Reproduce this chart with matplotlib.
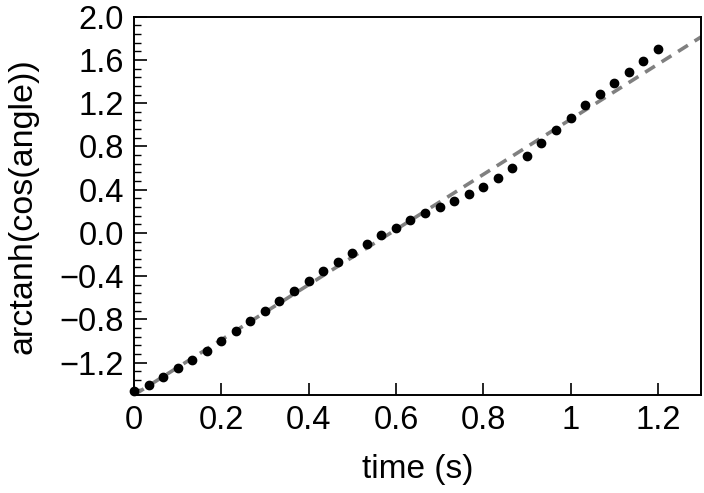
import numpy as np
import matplotlib
matplotlib.use("Agg")
import matplotlib.pyplot as plt
from matplotlib.ticker import MultipleLocator, FuncFormatter

plt.rcParams['font.family'] = ['Liberation Sans', 'DejaVu Sans']

# data
time_s = [k / 30 for k in range(37)]
arctanh_cos = [-1.463, -1.404, -1.333, -1.253, -1.179, -1.093, -1.000, -0.907,
               -0.815, -0.722, -0.626, -0.537, -0.447, -0.352, -0.269, -0.185,
               -0.102, -0.021, 0.046, 0.118, 0.180, 0.235, 0.291, 0.356,
               0.420, 0.504, 0.602, 0.713, 0.833, 0.951, 1.065, 1.182,
               1.284, 1.386, 1.488, 1.590, 1.698]
fit_slope = 2.55
fit_intercept = -1.50
fit_range = [0.0, 1.3]
x_ticks = [0, 0.2, 0.4, 0.6, 0.8, 1.0, 1.2]
x_tick_labels = ["0", "0.2", "0.4", "0.6", "0.8", "1", "1.2"]
y_ticks = [-1.2, -0.8, -0.4, 0.0, 0.4, 0.8, 1.2, 1.6, 2.0]

fig = plt.figure(figsize=(7.04, 4.93), dpi=100)
ax = fig.add_axes([0.1903, 0.1988, 0.8061, 0.7673])

fx = np.array(fit_range)
ax.plot(fx, fit_slope * fx + fit_intercept, linestyle=(0, (3.2, 2.2)),
        color='#808080', linewidth=2.6, zorder=2)
ax.plot(time_s, arctanh_cos, 'o', color='black', markersize=6.0,
        clip_on=False, zorder=3)

ax.set_xlim(0, 1.3)
ax.set_ylim(-1.5, 2.0)
ax.set_xticks(x_ticks)
ax.set_xticklabels(x_tick_labels)
ax.set_yticks(y_ticks)
ax.yaxis.set_minor_locator(MultipleLocator(0.08))
ax.yaxis.set_major_formatter(FuncFormatter(lambda v, p: f"{v:.1f}".replace('-', '\u2212')))

ax.tick_params(axis='both', which='major', direction='in', length=9, width=1.2,
               labelsize=23.5)
ax.tick_params(axis='x', which='major', pad=7)
ax.tick_params(axis='y', which='major', pad=7)
ax.tick_params(axis='y', which='minor', direction='in', length=5, width=1.0)
ax.tick_params(top=False, right=False)
for s in ax.spines.values():
    s.set_linewidth(1.4)

ax.set_xlabel("time (s)", fontsize=24, labelpad=13)
ax.set_ylabel("arctanh(cos(angle))", fontsize=24.5, labelpad=15)

fig.savefig("out.png", dpi=100)
